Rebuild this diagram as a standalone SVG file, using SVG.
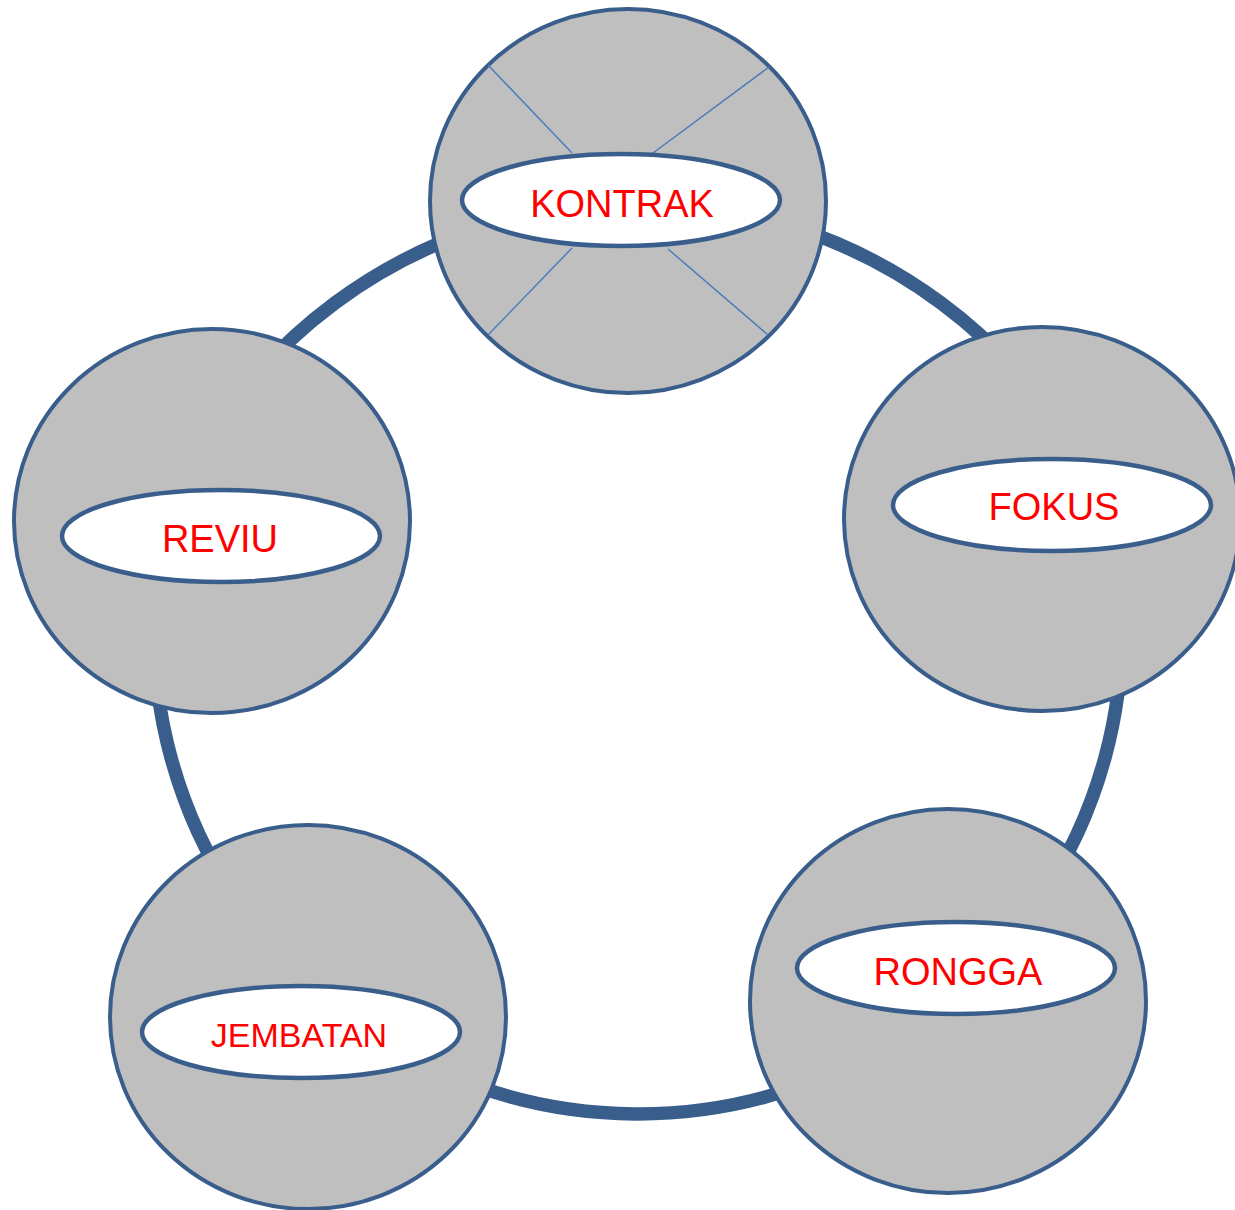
<svg xmlns="http://www.w3.org/2000/svg" width="1235" height="1210" viewBox="0 0 1235 1210">
  <style>
    .ring { fill: none; stroke: #3A5E8C; stroke-width: 13.5; }
    .ball { fill: #BFBFBF; stroke: #3A5E8C; stroke-width: 4; }
    .lens { fill: #FFFFFF; stroke: #3A5E8C; stroke-width: 4.5; }
    .thin { stroke: #4A7EBB; stroke-width: 1.5; fill: none; }
    .lbl { font-family: "Liberation Sans", Arial, sans-serif; font-size: 38px; fill: #FF0000; text-anchor: middle; }
  </style>
  <rect width="1235" height="1210" fill="#FFFFFF"/>
  <g id="connectors">
    <path class="ring" d="M 796 228 A 510 510 0 0 1 1055 420"/>
    <path class="ring" d="M 1121 600 A 484 484 0 0 1 1040 900"/>
    <path class="ring" d="M 850 1065 A 484 484 0 0 1 420 1062"/>
    <path class="ring" d="M 236 900 A 484 484 0 0 1 155 600"/>
    <path class="ring" d="M 221 420 A 510 510 0 0 1 480 228"/>
  </g>
  <g id="kontrak">
    <ellipse class="ball" cx="628" cy="201" rx="198" ry="192"/>
    <line class="thin" x1="488" y1="65" x2="572" y2="153"/>
    <line class="thin" x1="769" y1="67" x2="653" y2="153"/>
    <line class="thin" x1="572" y1="248" x2="488" y2="335"/>
    <line class="thin" x1="668" y1="249" x2="768" y2="335"/>
    <ellipse class="lens" cx="621" cy="200" rx="159" ry="46"/>
    <text class="lbl" x="622" y="217">KONTRAK</text>
  </g>
  <g id="fokus">
    <ellipse class="ball" cx="1042" cy="519" rx="198" ry="192"/>
    <ellipse class="lens" cx="1052" cy="505" rx="159" ry="46"/>
    <text class="lbl" x="1054" y="520">FOKUS</text>
  </g>
  <g id="rongga">
    <ellipse class="ball" cx="948" cy="1001" rx="198" ry="192"/>
    <ellipse class="lens" cx="956" cy="968" rx="159" ry="46"/>
    <text class="lbl" x="958" y="985">RONGGA</text>
  </g>
  <g id="jembatan">
    <ellipse class="ball" cx="308" cy="1017" rx="198" ry="192"/>
    <ellipse class="lens" cx="301" cy="1032" rx="159" ry="46"/>
    <text class="lbl" x="299" y="1047" style="font-size:34px">JEMBATAN</text>
  </g>
  <g id="reviu">
    <ellipse class="ball" cx="212" cy="521" rx="198" ry="192"/>
    <ellipse class="lens" cx="221" cy="536" rx="159" ry="46"/>
    <text class="lbl" x="220" y="552">REVIU</text>
  </g>
</svg>
